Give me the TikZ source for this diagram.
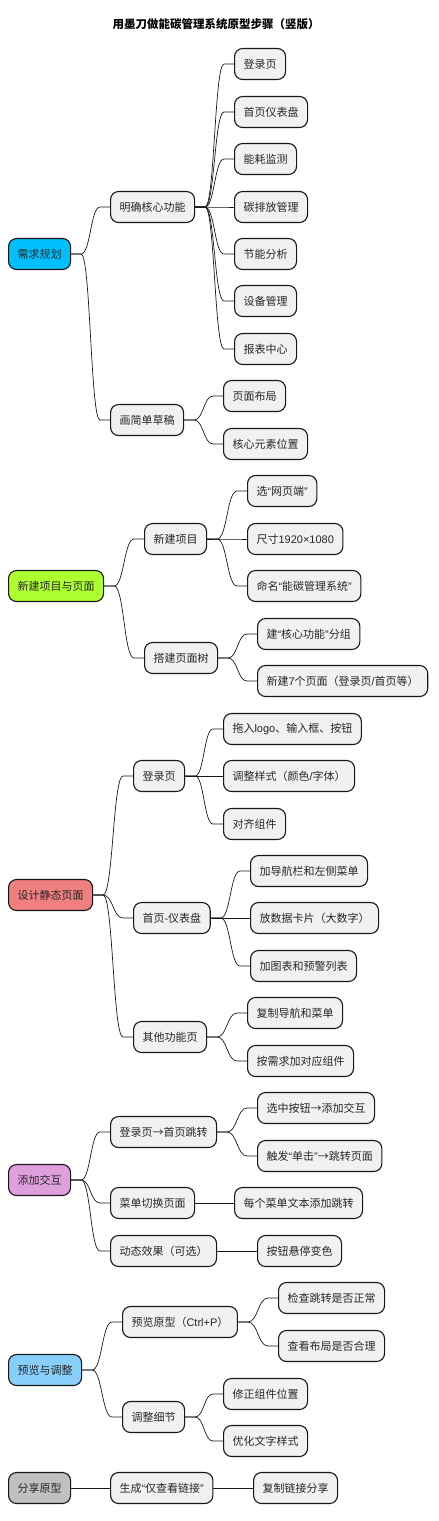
\documentclass[tikz,border=0pt]{standalone}
\usepackage{fontspec}
\setmainfont{Noto Sans CJK SC}
\newfontfamily\lat{Liberation Sans}
\usetikzlibrary{calc}
\definecolor{nodefill}{HTML}{F1F1F1}
\definecolor{cblue}{HTML}{00BFFF}
\definecolor{cgreen}{HTML}{ADFF2F}
\definecolor{cred}{HTML}{F08080}
\definecolor{cplum}{HTML}{DDA0DD}
\definecolor{clblue}{HTML}{87CEFA}
\definecolor{cgray}{HTML}{C0C0C0}
\definecolor{lncol}{HTML}{181818}
\tikzset{
  box/.style={draw=lncol, line width=1.1pt, rounded corners=8pt, fill=nodefill, anchor=west,
    minimum height=31pt, inner xsep=9pt, inner ysep=0pt, font=\fontsize{11}{13}\selectfont, text=black!85},
  conn/.style={draw=lncol, line width=0.7pt},
  titlestyle/.style={font=\fontsize{11.5}{14}\selectfont\bfseries, text=black},
}
\newcommand\mc[2]{\draw[conn] let \p1=(#1.east), \p2=(#2.west), \n1={(\x1+\x2)/2} in
  (\p1) -- ({\x1+10pt},\y1) .. controls (\n1,\y1) and (\n1,\y2) .. ({\x2-10pt},\y2) -- (\p2);}
\begin{document}
\begin{tikzpicture}[x=1pt,y=-1pt]
\useasboundingbox (0,0) rectangle (439,1521);
\node[titlestyle] (title) at (216,24) {用墨刀做能碳管理系统原型步骤（竖版）};

% ---- 需求规划
\node[box,fill=cblue] (r1) at (8,254) {需求规划};
\node[box] (a1) at (110,207) {明确核心功能};
\node[box] (a2) at (110,420) {画简单草稿};
\node[box] (a11) at (234,64) {登录页};
\node[box] (a12) at (234,112) {首页仪表盘};
\node[box] (a13) at (234,159) {能耗监测};
\node[box] (a14) at (234,207) {碳排放管理};
\node[box] (a15) at (234,254) {节能分析};
\node[box] (a16) at (234,301) {设备管理};
\node[box] (a17) at (234,349) {报表中心};
\node[box] (a21) at (223,396) {页面布局};
\node[box] (a22) at (223,444) {核心元素位置};
\mc{r1}{a1}\mc{r1}{a2}
\mc{a1}{a11}\mc{a1}{a12}\mc{a1}{a13}\mc{a1}{a14}\mc{a1}{a15}\mc{a1}{a16}\mc{a1}{a17}
\mc{a2}{a21}\mc{a2}{a22}

% ---- 新建项目与页面
\node[box,fill=cgreen] (r2) at (8,586) {新建项目与页面};
\node[box] (b1) at (144,539) {新建项目};
\node[box] (b2) at (144,658) {搭建页面树};
\node[box] (b11) at (247,491) {选{\lat “}网页端{\lat ”}};
\node[box] (b12) at (247,539) {尺寸{\lat 1920×1080}};
\node[box] (b13) at (247,586) {命名{\lat “}能碳管理系统{\lat ”}};
\node[box] (b21) at (257,634) {建{\lat “}核心功能{\lat ”}分组};
\node[box] (b22) at (257,681) {新建{\lat 7}个页面（登录页{\lat /}首页等）};
\mc{r2}{b1}\mc{r2}{b2}
\mc{b1}{b11}\mc{b1}{b12}\mc{b1}{b13}
\mc{b2}{b21}\mc{b2}{b22}

% ---- 设计静态页面
\node[box,fill=cred] (r3) at (8,895) {设计静态页面};
\node[box] (c1) at (133,776) {登录页};
\node[box] (c2) at (133,918) {首页{\lat -}仪表盘};
\node[box] (c3) at (133,1037) {其他功能页};
\node[box] (c11) at (223,729) {拖入{\lat logo}、输入框、按钮};
\node[box] (c12) at (223,776) {调整样式（颜色{\lat /}字体）};
\node[box] (c13) at (223,824) {对齐组件};
\node[box] (c21) at (250,871) {加导航栏和左侧菜单};
\node[box] (c22) at (250,918) {放数据卡片（大数字）};
\node[box] (c23) at (250,966) {加图表和预警列表};
\node[box] (c31) at (247,1013) {复制导航和菜单};
\node[box] (c32) at (247,1061) {按需求加对应组件};
\mc{r3}{c1}\mc{r3}{c2}\mc{r3}{c3}
\mc{c1}{c11}\mc{c1}{c12}\mc{c1}{c13}
\mc{c2}{c21}\mc{c2}{c22}\mc{c2}{c23}
\mc{c3}{c31}\mc{c3}{c32}

% ---- 添加交互
\node[box,fill=cplum] (r4) at (8,1180) {添加交互};
\node[box] (d1) at (110,1132) {登录页→首页跳转};
\node[box] (d2) at (110,1203) {菜单切换页面};
\node[box] (d3) at (110,1251) {动态效果（可选）};
\node[box] (d11) at (257,1108) {选中按钮→添加交互};
\node[box] (d12) at (257,1156) {触发{\lat “}单击{\lat ”}→跳转页面};
\node[box] (d21) at (234,1203) {每个菜单文本添加跳转};
\node[box] (d31) at (257,1251) {按钮悬停变色};
\mc{r4}{d1}\mc{r4}{d2}\mc{r4}{d3}
\mc{d1}{d11}\mc{d1}{d12}
\mc{d2}{d21}
\mc{d3}{d31}

% ---- 预览与调整
\node[box,fill=clblue] (r5) at (8,1370) {预览与调整};
\node[box] (e1) at (122,1322) {预览原型（{\lat Ctrl+P}）};
\node[box] (e2) at (122,1417) {调整细节};
\node[box] (e11) at (278,1298) {检查跳转是否正常};
\node[box] (e12) at (278,1346) {查看布局是否合理};
\node[box] (e21) at (223,1394) {修正组件位置};
\node[box] (e22) at (223,1441) {优化文字样式};
\mc{r5}{e1}\mc{r5}{e2}
\mc{e1}{e11}\mc{e1}{e12}
\mc{e2}{e21}\mc{e2}{e22}

% ---- 分享原型
\node[box,fill=cgray] (r6) at (8,1488) {分享原型};
\node[box] (f1) at (110,1488) {生成{\lat “}仅查看链接{\lat ”}};
\node[box] (f11) at (253,1488) {复制链接分享};
\mc{r6}{f1}
\mc{f1}{f11}
\end{tikzpicture}
\end{document}
